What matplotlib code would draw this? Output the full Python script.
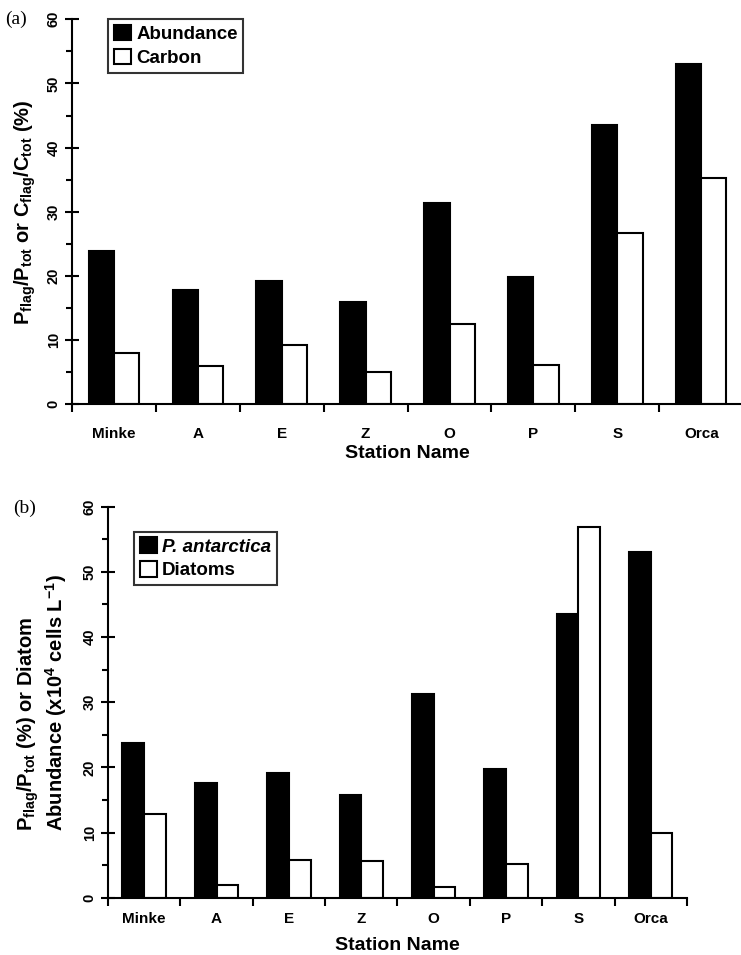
import matplotlib.pyplot as plt
import numpy as np

# data
stations = ['Minke', 'A', 'E', 'Z', 'O', 'P', 'S', 'Orca']
abundance = [23.9, 17.8, 19.2, 16.0, 31.4, 19.9, 43.6, 53.1]
carbon = [8.0, 5.9, 9.2, 5.0, 12.5, 6.2, 26.7, 35.2]
p_antarctica = [23.8, 17.6, 19.1, 15.8, 31.2, 19.7, 43.5, 53.0]
diatoms = [12.8, 1.9, 5.8, 5.6, 1.7, 5.2, 56.9, 9.9]

plt.rcParams['font.family'] = 'Liberation Sans'
plt.rcParams['font.weight'] = 'bold'
plt.rcParams['mathtext.fontset'] = 'custom'
plt.rcParams['mathtext.rm'] = 'Liberation Sans:bold'
plt.rcParams['mathtext.it'] = 'Liberation Sans:bold:italic'
plt.rcParams['mathtext.bf'] = 'Liberation Sans:bold'

fig = plt.figure(figsize=(7.41, 9.55), dpi=100)
ax1 = fig.add_axes([0.097, 0.5766, 0.906, 0.4032])
ax2 = fig.add_axes([0.1457, 0.060, 0.7813, 0.4094])

w = 0.3
x = np.arange(len(stations))


def style(ax, labels, xpad):
    ax.set_xlim(-0.5, len(stations) - 0.5)
    ax.set_ylim(0, 60)
    for s in ['top', 'right']:
        ax.spines[s].set_visible(False)
    for s in ['left', 'bottom']:
        ax.spines[s].set_linewidth(1.5)
    ax.set_yticks(np.arange(0, 61, 10))
    ax.set_yticks(np.arange(5, 60, 10), minor=True)
    ax.tick_params(axis='y', which='major', direction='inout', length=10, width=1.5, pad=3)
    ax.tick_params(axis='y', which='minor', direction='out', length=4, width=1.5)
    for t in ax.get_yticklabels():
        t.set_rotation(90)
        t.set_va('center')
        t.set_fontsize(10.5)
        t.set_fontweight('bold')
    # boundary ticks on x, labels at centres
    ax.set_xticks(np.arange(-0.5, len(stations), 1.0))
    ax.set_xticklabels([])
    ax.set_xticks(x, minor=True)
    ax.set_xticklabels(labels, minor=True, fontsize=11, fontweight='bold')
    ax.tick_params(axis='x', which='major', direction='out', length=6, width=1.5)
    ax.tick_params(axis='x', which='minor', length=0, pad=xpad)


# (a)
ax1.bar(x - w / 2, abundance, w, color='black', edgecolor='black', linewidth=1.5, label='Abundance')
ax1.bar(x + w / 2, carbon, w, color='white', edgecolor='black', linewidth=1.5, label='Carbon')
style(ax1, stations, 16)
ax1.set_xlabel('Station Name', fontsize=14, fontweight='bold', labelpad=3)
ax1.set_ylabel(r'P$_\mathrm{flag}$/P$_\mathrm{tot}$ or C$_\mathrm{flag}$/C$_\mathrm{tot}$ (%)',
               fontsize=14.5, fontweight='bold', labelpad=6)
leg1 = ax1.legend(loc='upper left', bbox_to_anchor=(0.054, 1.0), fontsize=13.5, frameon=True,
                  fancybox=False, edgecolor='black', handlelength=0.9, handleheight=0.9,
                  handletextpad=0.3, borderpad=0.3, labelspacing=0.3, borderaxespad=0)
leg1.get_frame().set_linewidth(1.5)
fig.text(0.007, 0.98, '(a)', family='Liberation Serif', fontweight='normal', fontsize=14, va='center')

# (b)
ax2.bar(x - w / 2, p_antarctica, w, color='black', edgecolor='black', linewidth=1.5,
        label='P. antarctica')
ax2.bar(x + w / 2, diatoms, w, color='white', edgecolor='black', linewidth=1.5, label='Diatoms')
style(ax2, stations, 10)
ax2.set_xlabel('Station Name', fontsize=14, fontweight='bold', labelpad=8)
ax2.set_ylabel('P$_\\mathrm{flag}$/P$_\\mathrm{tot}$ (%) or Diatom\n'
               'Abundance (x10$^\\mathrm{4}$ cells L$^\\mathrm{-1}$)',
               fontsize=14.5, fontweight='bold', labelpad=10, linespacing=1.1,
               multialignment='left')
leg2 = ax2.legend(loc='upper left', bbox_to_anchor=(0.045, 0.936), fontsize=13.5, frameon=True,
                  fancybox=False, edgecolor='black', handlelength=0.9, handleheight=0.9,
                  handletextpad=0.3, borderpad=0.3, labelspacing=0.3, borderaxespad=0)
leg2.get_frame().set_linewidth(1.5)
leg2.get_texts()[0].set_fontstyle('italic')
fig.text(0.018, 0.468, '(b)', family='Liberation Serif', fontweight='normal', fontsize=14, va='center')

plt.savefig('out.png', dpi=100)
